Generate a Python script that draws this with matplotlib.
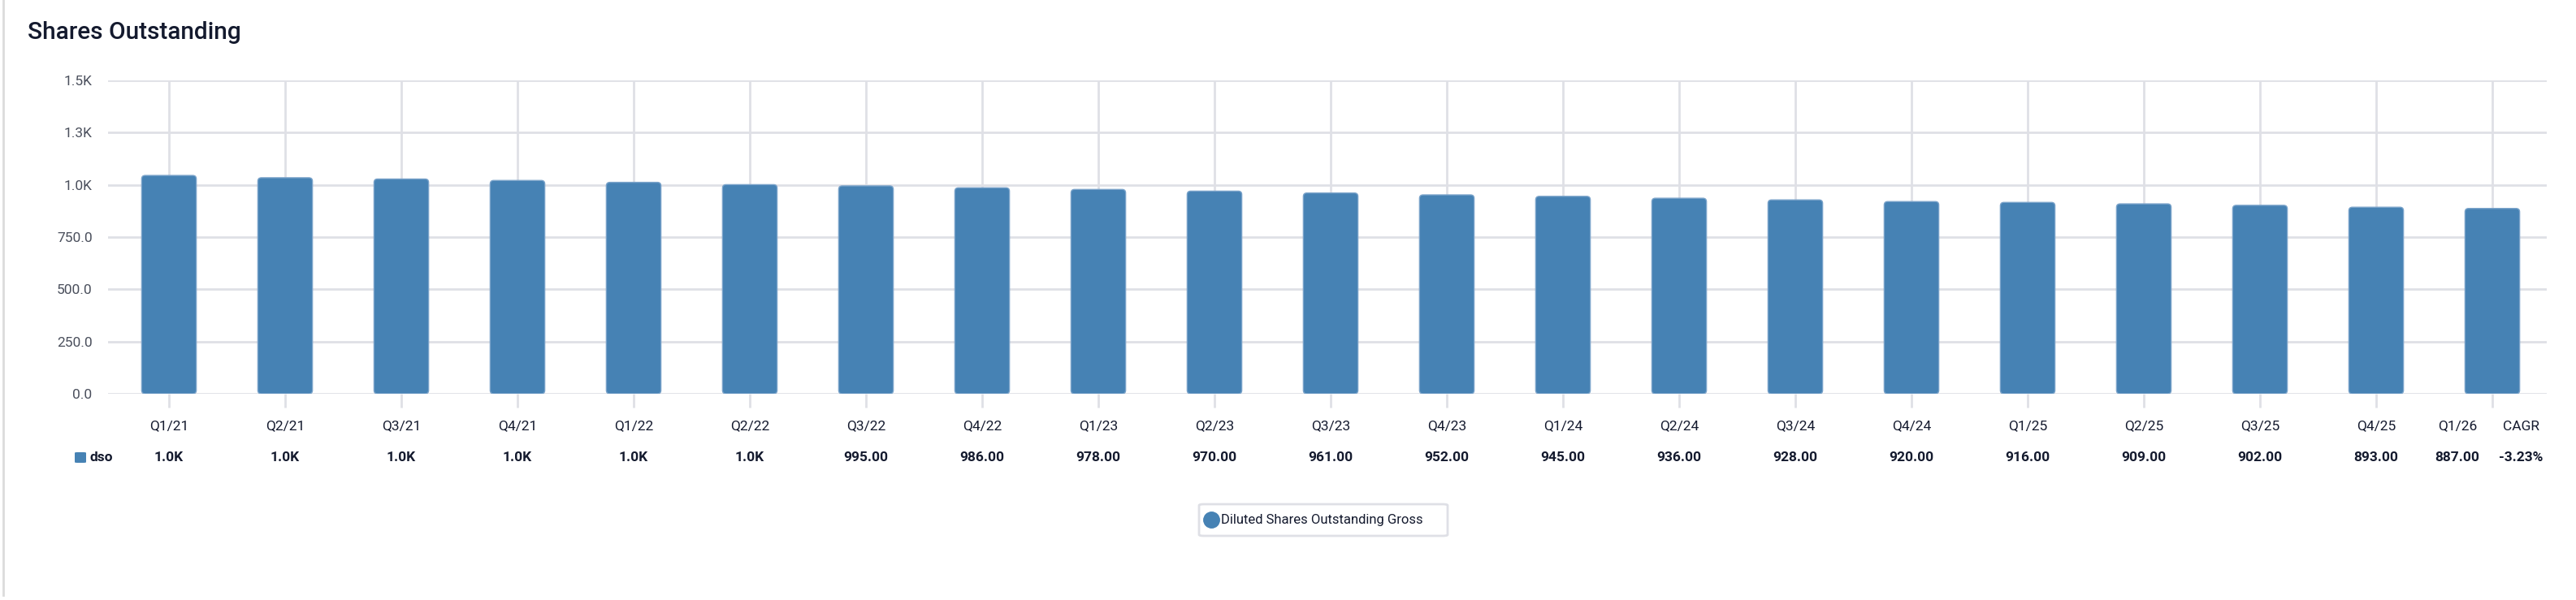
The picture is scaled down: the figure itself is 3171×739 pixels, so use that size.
import matplotlib
matplotlib.use("Agg")
import matplotlib.pyplot as plt
from matplotlib.patches import FancyBboxPatch
from matplotlib.lines import Line2D
import matplotlib.transforms as mtrans

plt.rcParams['font.family'] = ['Roboto', 'DejaVu Sans']

# ---- data ----
quarters = ["Q1/21", "Q2/21", "Q3/21", "Q4/21", "Q1/22", "Q2/22", "Q3/22", "Q4/22",
            "Q1/23", "Q2/23", "Q3/23", "Q4/23", "Q1/24", "Q2/24", "Q3/24", "Q4/24",
            "Q1/25", "Q2/25", "Q3/25", "Q4/25", "Q1/26"]
dso = [1045, 1034, 1028, 1021, 1012, 1001, 995, 986,
       978, 970, 961, 952, 945, 936, 928, 920,
       916, 909, 902, 893, 887]
value_labels = ["1.0K", "1.0K", "1.0K", "1.0K", "1.0K", "1.0K", "995.00", "986.00",
                "978.00", "970.00", "961.00", "952.00", "945.00", "936.00", "928.00", "920.00",
                "916.00", "909.00", "902.00", "893.00", "887.00"]
cagr_label = "-3.23%"
yticks = [0, 250, 500, 750, 1000, 1250, 1500]
ytick_labels = ["0.0", "250.0", "500.0", "750.0", "1.0K", "1.3K", "1.5K"]
series_name = "Diluted Shares Outstanding Gross"
row_name = "dso"

W, H = 3171, 739
fig = plt.figure(figsize=(W / 100, H / 100), dpi=100)
fig.patch.set_facecolor("white")

def fx(px):
    return px / W

def fy(py):
    return 1 - py / H

grid_c = "#dfe0e6"
bar_c = "#4682b4"
text_dark = "#141a2e"
tick_c = "#4a4f5c"

ax_left, ax_right, ax_top, ax_bot = 133, 3135, 99, 485
ax = fig.add_axes([fx(ax_left), fy(ax_bot), fx(ax_right - ax_left), (ax_bot - ax_top) / H])
ax.set_facecolor("white")

n = len(quarters)
xs = list(range(n))
spacing = 143.0
first_c = 208.0
ax.set_xlim((ax_left - first_c) / spacing, (ax_right - first_c) / spacing)
ax.set_ylim(0, 1500)

# grid
for yv in yticks:
    ax.axhline(yv, color=grid_c, lw=2.0, zorder=0.5)
ax.set_xticks(xs)
ax.set_xticklabels([])
ax.xaxis.grid(True, color=grid_c, lw=2.0, zorder=0.4)
ax.tick_params(axis='x', length=12, width=2.0, color=grid_c)
ax.set_yticks(yticks)
ax.set_yticklabels(ytick_labels)
ax.tick_params(axis='y', length=0, pad=14, labelsize=12.5, labelcolor=tick_c)
for s in ax.spines.values():
    s.set_visible(False)
ax.set_axisbelow(True)

bar_w = 0.47
y_per_px = 1500 / (ax_bot - ax_top)
x_per_px = 1 / spacing
for xi, v in zip(xs, dso):
    p = FancyBboxPatch((xi - bar_w / 2, 0), bar_w, v,
                       boxstyle="round,pad=0,rounding_size=0.03",
                       mutation_aspect=y_per_px / x_per_px,
                       facecolor=bar_c, edgecolor="#7aa3ca", lw=1.0, zorder=3)
    ax.add_patch(p)

# category labels row and value row
trans = mtrans.blended_transform_factory(ax.transData, fig.transFigure)
label_x = list(xs)
label_x[-1] = (3025 - first_c) / spacing
cagr_x = (3103 - first_c) / spacing
for lx, q, vl in zip(label_x, quarters, value_labels):
    ax.text(lx, fy(525), q, transform=trans, ha="center", va="center",
            fontsize=12.5, color=text_dark, clip_on=False)
    ax.text(lx, fy(563), vl, transform=trans, ha="center", va="center",
            fontsize=12.5, fontweight="bold", color=text_dark, clip_on=False)
ax.text(cagr_x, fy(525), "CAGR", transform=trans, ha="center", va="center",
        fontsize=12.5, color=text_dark, clip_on=False)
ax.text(cagr_x, fy(563), cagr_label, transform=trans, ha="center", va="center",
        fontsize=12.5, fontweight="bold", color=text_dark, clip_on=False)

# row legend "dso"
fig.patches.append(FancyBboxPatch((fx(92), fy(570)), fx(14), 13 / H,
                                  boxstyle="round,pad=0,rounding_size=0.001",
                                  transform=fig.transFigure, facecolor=bar_c,
                                  edgecolor="none"))
fig.text(fx(111), fy(563), row_name, ha="left", va="center", fontsize=12.5,
         fontweight="bold", color=text_dark)

# title
fig.text(fx(34), fy(40), "Shares Outstanding", ha="left", va="center",
         fontsize=21.5, color=text_dark, fontweight="medium")

# card left border
fig.add_artist(Line2D([fx(4), fx(4)], [fy(0), fy(733)], transform=fig.transFigure,
                      color="#dcdcdc", lw=2))

# legend box
fig.patches.append(FancyBboxPatch((fx(1476), fy(660)), fx(306), 39 / H,
                                  boxstyle="round,pad=0,rounding_size=0.002",
                                  transform=fig.transFigure, facecolor="white",
                                  edgecolor=grid_c, lw=2))
fig.add_artist(Line2D([fx(1491)], [fy(640)], transform=fig.transFigure, marker="o",
                      markersize=14, markerfacecolor=bar_c, markeredgecolor=bar_c))
fig.text(fx(1503), fy(640), series_name, ha="left", va="center", fontsize=12,
         color=text_dark)

fig.savefig("out.png", dpi=100, facecolor="white")
